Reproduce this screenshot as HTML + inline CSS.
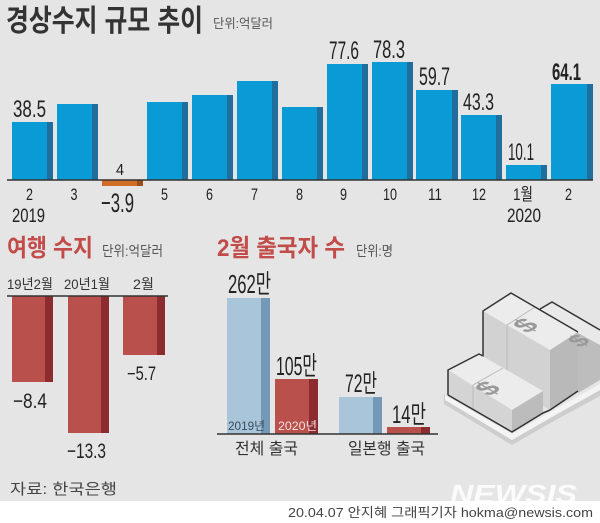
<!DOCTYPE html>
<html><head><meta charset="utf-8">
<style>
html,body{margin:0;padding:0;background:#fff;}
svg{display:block;}
.n{font-family:"Liberation Sans","Noto Sans CJK KR",sans-serif;fill:#222;}
.k{font-family:"Liberation Sans","Noto Sans CJK KR",sans-serif;}
</style></head>
<body>
<svg width="600" height="523" viewBox="0 0 600 523" xmlns="http://www.w3.org/2000/svg">
<rect x="0" y="0" width="600" height="501" fill="#e5e5e5"/>
<rect x="0" y="501" width="600" height="22" fill="#ffffff"/>

<!-- Title -->
<text class="k" x="6" y="31" font-size="30" font-weight="700" fill="#333" textLength="197" lengthAdjust="spacingAndGlyphs">경상수지 규모 추이</text>
<text class="k" x="213" y="28" font-size="13" fill="#555" textLength="60" lengthAdjust="spacingAndGlyphs">단위:억달러</text>

<!-- Top bars -->
<g>
<rect x="12" y="122" width="35" height="58" fill="#0a9ad6"/><rect x="47" y="122" width="6" height="58" fill="#1f6e9c"/>
<rect x="57" y="104" width="35" height="76" fill="#0a9ad6"/><rect x="92" y="104" width="6" height="76" fill="#1f6e9c"/>
<rect x="102" y="180" width="35" height="6" fill="#d06d26"/><rect x="137" y="180" width="6" height="6" fill="#9c4e1c"/>
<rect x="147" y="102" width="35" height="78" fill="#0a9ad6"/><rect x="182" y="102" width="6" height="78" fill="#1f6e9c"/>
<rect x="192" y="95" width="35" height="85" fill="#0a9ad6"/><rect x="227" y="95" width="6" height="85" fill="#1f6e9c"/>
<rect x="237" y="81" width="35" height="99" fill="#0a9ad6"/><rect x="272" y="81" width="6" height="99" fill="#1f6e9c"/>
<rect x="282" y="107" width="35" height="73" fill="#0a9ad6"/><rect x="317" y="107" width="6" height="73" fill="#1f6e9c"/>
<rect x="327" y="64" width="35" height="116" fill="#0a9ad6"/><rect x="362" y="64" width="6" height="116" fill="#1f6e9c"/>
<rect x="372" y="62" width="35" height="118" fill="#0a9ad6"/><rect x="407" y="62" width="6" height="118" fill="#1f6e9c"/>
<rect x="416" y="90" width="36" height="90" fill="#0a9ad6"/><rect x="452" y="90" width="6" height="90" fill="#1f6e9c"/>
<rect x="461" y="115" width="35" height="65" fill="#0a9ad6"/><rect x="496" y="115" width="6" height="65" fill="#1f6e9c"/>
<rect x="506" y="165" width="35" height="15" fill="#0a9ad6"/><rect x="541" y="165" width="6" height="15" fill="#1f6e9c"/>
<rect x="551" y="84" width="36" height="96" fill="#0a9ad6"/><rect x="587" y="84" width="6" height="96" fill="#1f6e9c"/>
</g>
<line x1="7" y1="180" x2="593" y2="180" stroke="#333" stroke-width="1.5"/>

<!-- Top value labels -->
<text class="n" x="13" y="117" font-size="24" textLength="33" lengthAdjust="spacingAndGlyphs">38.5</text>
<text class="n" x="101" y="212" font-size="27" textLength="33" lengthAdjust="spacingAndGlyphs">−3.9</text>
<text class="n" x="329" y="59" font-size="25" textLength="30" lengthAdjust="spacingAndGlyphs">77.6</text>
<text class="n" x="373" y="58" font-size="25" textLength="32" lengthAdjust="spacingAndGlyphs">78.3</text>
<text class="n" x="419" y="85" font-size="25" textLength="31" lengthAdjust="spacingAndGlyphs">59.7</text>
<text class="n" x="463" y="110" font-size="24" textLength="31" lengthAdjust="spacingAndGlyphs">43.3</text>
<text class="n" x="508" y="160" font-size="24" textLength="26" lengthAdjust="spacingAndGlyphs">10.1</text>
<text class="n" x="552" y="80" font-size="24" font-weight="700" textLength="29" lengthAdjust="spacingAndGlyphs">64.1</text>

<!-- Month labels -->
<g class="n" font-size="17" fill="#222">
<text x="26" y="200" textLength="7" lengthAdjust="spacingAndGlyphs">2</text>
<text x="70.5" y="200" textLength="7" lengthAdjust="spacingAndGlyphs">3</text>
<text x="116" y="175" font-size="16" textLength="8" lengthAdjust="spacingAndGlyphs">4</text>
<text x="161" y="200" textLength="7" lengthAdjust="spacingAndGlyphs">5</text>
<text x="206" y="200" textLength="7" lengthAdjust="spacingAndGlyphs">6</text>
<text x="251" y="200" textLength="7" lengthAdjust="spacingAndGlyphs">7</text>
<text x="296" y="200" textLength="7" lengthAdjust="spacingAndGlyphs">8</text>
<text x="340" y="200" textLength="7" lengthAdjust="spacingAndGlyphs">9</text>
<text x="383" y="200" textLength="14" lengthAdjust="spacingAndGlyphs">10</text>
<text x="428" y="200" textLength="14" lengthAdjust="spacingAndGlyphs">11</text>
<text x="472" y="200" textLength="14" lengthAdjust="spacingAndGlyphs">12</text>
<text x="513" y="200" textLength="20" lengthAdjust="spacingAndGlyphs">1월</text>
<text x="565" y="200" textLength="7" lengthAdjust="spacingAndGlyphs">2</text>
<text x="12" y="222" font-size="19" textLength="33" lengthAdjust="spacingAndGlyphs">2019</text>
<text x="507" y="222" font-size="19" textLength="34" lengthAdjust="spacingAndGlyphs">2020</text>
</g>

<!-- Section 2: 여행 수지 -->
<text class="k" x="7" y="256" font-size="24" font-weight="700" fill="#c24c49" textLength="86" lengthAdjust="spacingAndGlyphs">여행 수지</text>
<text class="k" x="102" y="256" font-size="14" fill="#555" textLength="61" lengthAdjust="spacingAndGlyphs">단위:억달러</text>
<g class="k" font-size="14" fill="#333">
<text x="7" y="289" textLength="46" lengthAdjust="spacingAndGlyphs">19년2월</text>
<text x="64" y="289" textLength="46" lengthAdjust="spacingAndGlyphs">20년1월</text>
<text x="133" y="289" textLength="21" lengthAdjust="spacingAndGlyphs">2월</text>
</g>
<rect x="12" y="296" width="33" height="86" fill="#b9504c"/><rect x="45" y="296" width="8" height="86" fill="#8c2c30"/>
<rect x="68" y="296" width="33" height="137" fill="#b9504c"/><rect x="101" y="296" width="8" height="137" fill="#8c2c30"/>
<rect x="123" y="296" width="34" height="59" fill="#b9504c"/><rect x="157" y="296" width="8" height="59" fill="#8c2c30"/>
<line x1="7" y1="296" x2="168" y2="296" stroke="#333" stroke-width="1.5"/>
<text class="n" x="13" y="408" font-size="21" textLength="34" lengthAdjust="spacingAndGlyphs">−8.4</text>
<text class="n" x="67" y="458" font-size="21" textLength="39" lengthAdjust="spacingAndGlyphs">−13.3</text>
<text class="n" x="127" y="380" font-size="19" textLength="29" lengthAdjust="spacingAndGlyphs">−5.7</text>
<text class="k" x="10" y="494" font-size="15" fill="#444" textLength="107" lengthAdjust="spacingAndGlyphs">자료: 한국은행</text>

<!-- Section 3: 2월 출국자 수 -->
<text class="k" x="217" y="256" font-size="24" font-weight="700" fill="#c24c49" textLength="128" lengthAdjust="spacingAndGlyphs">2월 출국자 수</text>
<text class="k" x="356" y="256" font-size="14" fill="#555" textLength="37" lengthAdjust="spacingAndGlyphs">단위:명</text>
<rect x="227" y="298" width="34" height="136" fill="#a9c5d9"/><rect x="261" y="298" width="9" height="136" fill="#7399b6"/>
<rect x="275" y="379" width="34" height="55" fill="#b9504c"/><rect x="309" y="379" width="9" height="55" fill="#8c2c30"/>
<rect x="339" y="397" width="34" height="37" fill="#a9c5d9"/><rect x="373" y="397" width="9" height="37" fill="#7399b6"/>
<rect x="387" y="427" width="34" height="7" fill="#b9504c"/><rect x="421" y="427" width="9" height="7" fill="#8c2c30"/>
<line x1="217" y1="434" x2="438" y2="434" stroke="#333" stroke-width="1.5"/>
<text class="k" x="228" y="430" font-size="12" fill="#3b4b5b" textLength="37" lengthAdjust="spacingAndGlyphs">2019년</text>
<text class="k" x="278" y="430" font-size="12" fill="#f6e0e0" textLength="39" lengthAdjust="spacingAndGlyphs">2020년</text>
<text class="n" x="228" y="293" font-size="26" textLength="43" lengthAdjust="spacingAndGlyphs">262만</text>
<text class="n" x="276" y="375" font-size="26" textLength="41" lengthAdjust="spacingAndGlyphs">105만</text>
<text class="n" x="345" y="392" font-size="25" textLength="32" lengthAdjust="spacingAndGlyphs">72만</text>
<text class="n" x="392" y="423" font-size="25" textLength="34" lengthAdjust="spacingAndGlyphs">14만</text>
<text class="k" x="235" y="454" font-size="16" fill="#333" textLength="63" lengthAdjust="spacingAndGlyphs">전체 출국</text>
<text class="k" x="348" y="454" font-size="16" fill="#333" textLength="77" lengthAdjust="spacingAndGlyphs">일본행 출국</text>

<!-- Money illustration -->
<g stroke-linejoin="round">
  <polygon points="444,394 512,436 552,413 600,386 600,396 552,422 512,445 444,404" fill="#cdcdcd"/>
  <polygon points="445,395 512,434 552,411 600,384 600,390 552,417 512,440 445,400" fill="#f4f4f4"/>
  <polygon points="540,309 552,302 600,330 600,345 578,333" fill="#e9e9e9"/>
  <polygon points="578,333 600,345 600,380 578,393" fill="#bdbdbd"/>
  <polyline points="540,309 552,302 600,330" fill="none" stroke="#333" stroke-width="1.5"/>
  <polygon points="483,311 511,293 578,332 550,350" fill="#ececec"/>
  <polygon points="483,311 550,350 550,410 483,371" fill="#d2d2d2"/>
  <polygon points="550,350 578,332 578,391 550,410" fill="#b9b9b9"/>
  <line x1="507" y1="325" x2="535" y2="307" stroke="#bbb" stroke-width="1"/>
  <line x1="507" y1="325" x2="507" y2="385" stroke="#bbb" stroke-width="1"/>
  <polyline points="483,371 483,311 511,293 578,332" fill="none" stroke="#333" stroke-width="1.5"/>
  <polyline points="550,410 578,391" fill="none" stroke="#333" stroke-width="1.5"/>
  <polygon points="448,370 479,354 543,391 512,410" fill="#ececec"/>
  <polygon points="448,370 512,410 512,432 448,395" fill="#d4d4d4"/>
  <polygon points="512,410 543,391 543,413 512,432" fill="#bcbcbc"/>
  <line x1="473" y1="385" x2="503" y2="368" stroke="#bbb" stroke-width="1"/>
  <line x1="473" y1="385" x2="473" y2="410" stroke="#bbb" stroke-width="1"/>
  <polyline points="448,395 448,370 479,354 483,356" fill="none" stroke="#333" stroke-width="1.5"/>
  <polyline points="448,395 512,432 543,413 550,410" fill="none" stroke="#333" stroke-width="1.5"/>
  <text x="0" y="0" font-family="Liberation Sans" font-weight="700" font-size="28" fill="#999" transform="matrix(0.85,-0.5,0.85,0.5,527,334)">$</text>
  <text x="0" y="0" font-family="Liberation Sans" font-weight="700" font-size="28" fill="#999" transform="matrix(0.85,-0.5,0.85,0.5,489,397)">$</text>
  <text x="0" y="0" font-family="Liberation Sans" font-weight="700" font-size="24" fill="#999" transform="matrix(0.85,-0.5,0.85,0.5,580,348)">$</text>
</g>

<!-- Watermark -->
<text x="450" y="503" font-family="Liberation Sans" font-weight="700" font-style="italic" font-size="26" fill="#ffffff" fill-opacity="0.85" textLength="127" lengthAdjust="spacingAndGlyphs">NEWSIS</text>

<!-- Footer -->
<text class="k" x="288" y="517" font-size="13" fill="#444" textLength="305" lengthAdjust="spacingAndGlyphs">20.04.07 안지혜 그래픽기자 hokma@newsis.com</text>
</svg>
</body></html>
